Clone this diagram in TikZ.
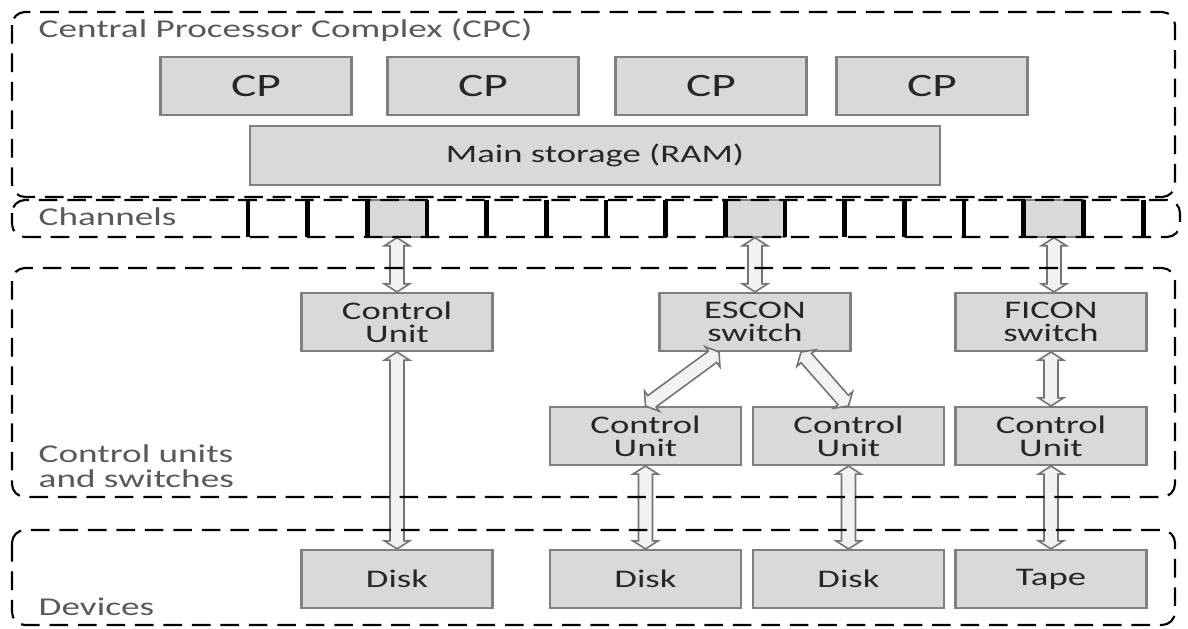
\documentclass[tikz,border=0pt]{standalone}
\usepackage{fontspec}
\setmainfont[FakeStretch=1.45]{Carlito}
\usepackage{xcolor}
\usetikzlibrary{calc, arrows.meta}
\definecolor{boxfill}{HTML}{D9D9D9}
\definecolor{boxline}{HTML}{808080}
\definecolor{textmain}{HTML}{262626}
\definecolor{labeltext}{HTML}{595959}

% hollow two-headed block arrow between two points
\newcommand{\dblarrow}[2]{%
  \coordinate (ba) at ($(#1)!0.08cm!(#2)$);
  \coordinate (bb) at ($(#2)!0.08cm!(#1)$);
  \filldraw[blockarrow] (#1)
    -- ($(ba)!0.125cm!90:(#2)$) -- ($(ba)!0.07cm!90:(#2)$)
    -- ($(bb)!0.07cm!-90:(#1)$) -- ($(bb)!0.125cm!-90:(#1)$)
    -- (#2)
    -- ($(bb)!0.125cm!90:(#1)$) -- ($(bb)!0.07cm!90:(#1)$)
    -- ($(ba)!0.07cm!-90:(#2)$) -- ($(ba)!0.125cm!-90:(#2)$)
    -- cycle;}

\begin{document}
\begin{tikzpicture}[
        unit/.style={rectangle, draw=boxline, fill=boxfill, text=textmain,
                     line width=0.6pt, minimum width=1.91cm, minimum height=0.58cm,
                     align=center, inner sep=0pt,
                     font=\fontsize{7.2}{6.6}\selectfont},
        cpbox/.style={unit, minimum width=1.91cm, font=\fontsize{9.3}{11}\selectfont},
        chan/.style={rectangle, fill=boxfill, draw=boxline, line width=0.4pt,
                     minimum width=0.597cm, minimum height=0.37cm, inner sep=0pt},
        group/.style={draw=black, line width=0.6pt, dash pattern=on 5.3pt off 2.8pt,
                      rounded corners=0.13cm},
        grouplabel/.style={anchor=west, text=labeltext, align=left, inner sep=0pt,
                           font=\fontsize{7.3}{7.1}\selectfont},
        bar/.style={line width=1.4pt, black},
        blockarrow/.style={draw=black!55, fill=black!5, line width=0.45pt, line join=miter}
      ]
        \useasboundingbox (0,0) rectangle (11.88,6.28);

        \node[cpbox] (cp1) at (2.56,5.42) {CP};
        \node[cpbox] (cp2) at (4.83,5.42) {CP};
        \node[cpbox] (cp3) at (7.11,5.42) {CP};
        \node[cpbox] (cp4) at (9.32,5.42) {CP};
        \node[unit, minimum width=6.9cm, minimum height=0.59cm] (ram) at (5.95,4.725) {Main storage (RAM)};

        \node[chan] (ch1) at (3.97,4.095) {};
        \node[chan] (ch2) at (7.55,4.095) {};
        \node[chan] (ch3) at (10.54,4.095) {};
        \foreach \i in {0,...,15}
          \draw[bar] ({2.48+0.5967*\i},4.28) -- ({2.48+0.5967*\i},3.91);

        \node[unit] (cu1) at (3.97,3.06) {Control\\Unit};
        \node[unit] (escon) at (7.55,3.06) {ESCON\\switch};
        \node[unit] (ficon) at (10.51,3.06) {FICON\\switch};
        \node[unit] (cu2) at (6.455,1.92) {Control\\Unit};
        \node[unit] (cu3) at (8.485,1.92) {Control\\Unit};
        \node[unit] (cu4) at (10.51,1.92) {Control\\Unit};

        \node[unit] (disk1) at (3.97,0.49) {Disk};
        \node[unit] (disk2) at (6.455,0.49) {Disk};
        \node[unit] (disk3) at (8.485,0.49) {Disk};
        \node[unit] (tape) at (10.51,0.49) {Tape};

        \coordinate (escl) at ($(escon.south)+(-0.36,0)$);
        \coordinate (escr) at ($(escon.south)+(0.46,0)$);

        \dblarrow{ch1.south}{cu1.north}
        \dblarrow{ch2.south}{escon.north}
        \dblarrow{ch3.south}{ficon.north -| ch3.south}
        \dblarrow{cu1.south}{disk1.north}
        \dblarrow{escl}{cu2.north}
        \dblarrow{escr}{cu3.north}
        \dblarrow{ficon.south}{cu4.north}
        \dblarrow{cu2.south}{disk2.north}
        \dblarrow{cu3.south}{disk3.north}
        \dblarrow{cu4.south}{tape.north}

        \draw[group] (0.12,6.16) rectangle (11.75,4.31);
        \draw[group] (0.12,4.28) rectangle (11.80,3.91);
        \draw[group] (0.12,3.60) rectangle (11.75,1.31);
        \draw[group] (0.12,0.98) rectangle (11.75,0.03);

        \node[grouplabel] (cpc) at (0.38,5.98) {Central Processor Complex (CPC)};
        \node[grouplabel] (chl) at (0.38,4.11) {Channels};
        \node[grouplabel] (cul) at (0.38,1.62) {Control units\\and switches};
        \node[grouplabel] (devl) at (0.38,0.21) {Devices};
      \end{tikzpicture}
\end{document}
